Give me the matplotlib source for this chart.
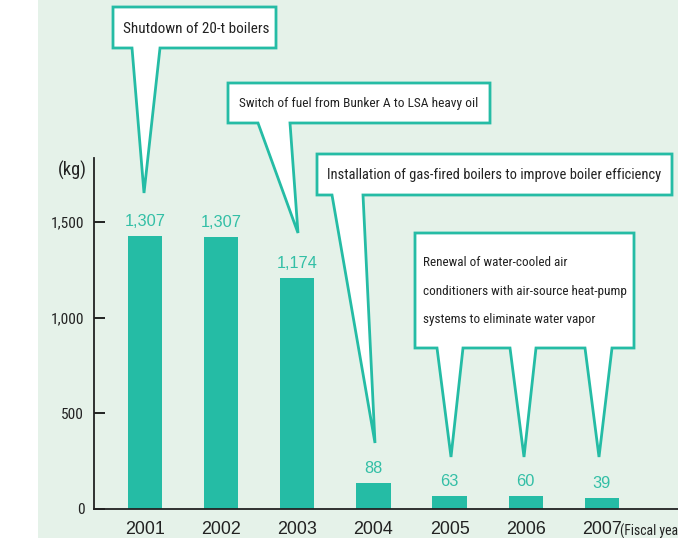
import matplotlib
matplotlib.use("Agg")
import matplotlib.pyplot as plt
from matplotlib.patches import Rectangle, Polygon

# data
years = ["2001", "2002", "2003", "2004", "2005", "2006", "2007"]
bar_heights = [1427, 1422, 1207, 136, 68, 68, 57]  # heights as drawn in the picture
value_labels = ["1,307", "1,307", "1,174", "88", "63", "60", "39"]
yticks = [0, 500, 1000, 1500]
ytick_labels = ["0", "500", "1,000", "1,500"]

TEAL = "#25bca5"
TEAL_TXT = "#33bfa6"
BG = "#e5f2e9"
INK = "#222222"
NARROW = ["Roboto Condensed", "DejaVu Sans"]
WIDE = ["Liberation Sans", "DejaVu Sans"]

W, H = 678, 538
fig = plt.figure(figsize=(W / 100, H / 100), dpi=100)
fig.patch.set_facecolor("white")
fig.patches.append(Rectangle((38 / W, 0), 1 - 38 / W, 1, transform=fig.transFigure,
                             facecolor=BG, edgecolor="none", zorder=-10))
renderer = fig.canvas.get_renderer()


def size_for(text, family, width_px):
    # font size that makes `text` about width_px wide
    t = fig.text(0, 0, text, family=family, fontsize=10)
    w = t.get_window_extent(renderer).width
    t.remove()
    return 10 * width_px / w


ax = fig.add_axes([94 / W, 29 / H, (W - 94) / W, (509 - 158) / H])
ax.patch.set_visible(False)
x = list(range(len(years)))
ax.bar(x, bar_heights, width=0.45, color=TEAL, zorder=2)
val_fs = size_for("1,307", WIDE, 41)
for xi, h, lab in zip(x, bar_heights, value_labels):
    ax.annotate(lab, (xi, h), xytext=(0, 7), textcoords="offset pixels",
                ha="center", va="bottom", fontsize=val_fs, color=TEAL_TXT, family=WIDE)
ax.set_xlim(-0.67, 7.0)
ax.set_ylim(0, 1835)
ax.set_yticks(yticks)
ax.set_yticklabels(ytick_labels, family=NARROW, fontsize=size_for("1,500", NARROW, 33),
                   color=INK)
ax.set_xticks(x)
ax.set_xticklabels(years, family=WIDE, fontsize=size_for("2001", WIDE, 40), color=INK)
ax.tick_params(axis="y", direction="in", length=8, width=1.2, pad=7)
ax.tick_params(axis="x", length=0, pad=9)
for s in ["top", "right"]:
    ax.spines[s].set_visible(False)
for s in ["left", "bottom"]:
    ax.spines[s].set_linewidth(1.3)
    ax.spines[s].set_color(INK)

# callouts and loose labels in pixel coordinates
ov = fig.add_axes([0, 0, 1, 1], zorder=5)
ov.set_xlim(0, W)
ov.set_ylim(H, 0)
ov.axis("off")

ov.text(87, 170, "(kg)", ha="right", va="center", family=NARROW,
        fontsize=size_for("(kg)", NARROW, 29), color=INK)
ov.text(620, 536, "(Fiscal year)", ha="left", va="baseline", family=NARROW,
        fontsize=size_for("(Fiscal yea", NARROW, 58), color=INK, clip_on=False)


def callout(x0, y0, x1, y1, pointers):
    pts = [(x0, y0), (x1, y0), (x1, y1)]
    for bl, br, tip in sorted(pointers, key=lambda p: -p[0]):
        pts += [(br, y1), tip, (bl, y1)]
    pts += [(x0, y1)]
    ov.add_patch(Polygon(pts, closed=True, facecolor="white", edgecolor=TEAL,
                         linewidth=2, joinstyle="miter"))


callout(113, 7, 276, 48, [(132, 160, (144, 193))])
ov.text(123, 29, "Shutdown of 20-t boilers", ha="left", va="center", family=NARROW,
        fontsize=size_for("Shutdown of 20-t boilers", NARROW, 145), color=INK)

s2 = "Switch of fuel from Bunker A to LSA heavy oil"
callout(228, 83, 490, 123, [(258, 290, (298, 233))])
ov.text(239, 103, s2, ha="left", va="center", family=NARROW,
        fontsize=size_for(s2, NARROW, 237), color=INK)

s3 = "Installation of gas-fired boilers to improve boiler efficiency"
callout(317, 154, 672, 195, [(332, 363, (375, 443))])
ov.text(327, 175, s3, ha="left", va="center", family=NARROW,
        fontsize=size_for(s3, NARROW, 333), color=INK)

s4 = ["Renewal of water-cooled air",
      "conditioners with air-source heat-pump",
      "systems to eliminate water vapor"]
callout(415, 233, 634, 348, [(437, 463, (451, 457)), (510, 536, (524, 457)),
                             (585, 612, (599, 457))])
fs4 = size_for(s4[1], NARROW, 203)
for line, yy in zip(s4, [262, 291, 319]):
    ov.text(423, yy, line, ha="left", va="center", family=NARROW, fontsize=fs4, color=INK)

fig.savefig("out.png", dpi=100)
